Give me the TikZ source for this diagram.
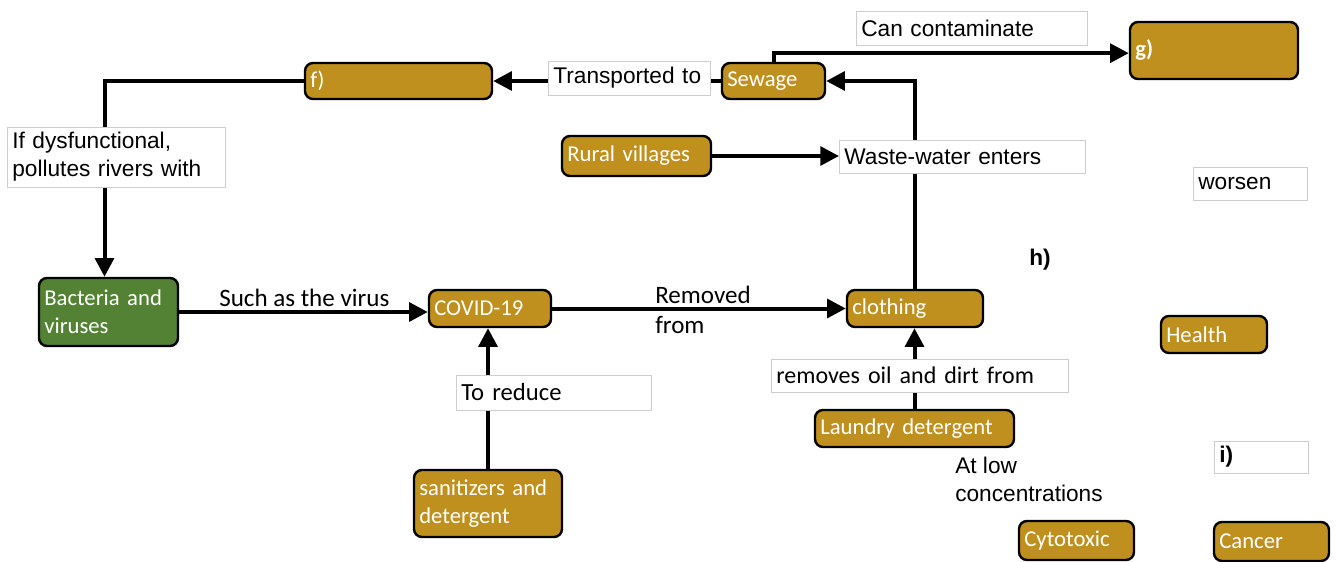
\documentclass[tikz,border=0pt]{standalone}
\usepackage{fontspec}
\setmainfont{Carlito}
\newfontfamily\arialf{Liberation Sans}
\usetikzlibrary{arrows.meta}
\definecolor{gold}{RGB}{191,144,30}
\definecolor{leaf}{RGB}{84,130,53}
\definecolor{lbord}{RGB}{205,205,205}
\begin{document}
\begin{tikzpicture}[x=0.75pt,y=-0.75pt,
  gbox/.style={draw=black, line width=1.8pt, rounded corners=6pt, fill=gold, text=white,
    font=\fontsize{17}{21}\selectfont, inner xsep=4pt, inner ysep=0pt, align=left},
  grn/.style={gbox, fill=leaf},
  lbox/.style={draw=lbord, line width=0.6pt, fill=white, text=black,
    font=\arialf\fontsize{17}{21}\selectfont, inner xsep=4pt, inner ysep=0pt, align=left},
  ptext/.style={text=black, font=\fontsize{18.8}{22}\selectfont, inner sep=0pt, align=left},
  atext/.style={text=black, font=\arialf\fontsize{17}{21}\selectfont, inner sep=0pt, align=left},
  arr/.style={draw=black, line width=3pt, -{Triangle[length=14pt,width=14pt]}},
  ln/.style={draw=black, line width=3pt}]
\useasboundingbox (0,0) rectangle (1341,561);
\fill[white] (0,0) rectangle (1341,561);
% gold / green nodes
\node[gbox, minimum width=140.25pt, minimum height=27pt, text width=132.25pt] (f) at (398.5,81) {f)};
\node[gbox, minimum width=77.25pt, minimum height=27pt, text width=69.25pt] (sew) at (773.5,81) {Sewage};
\node[gbox, minimum width=126pt, minimum height=42.75pt, text width=118pt] (g) at (1214,50.5) {\textbf{g)}};
\node[gbox, minimum width=111.75pt, minimum height=30pt, text width=103.75pt] (rural) at (636.5,156) {Rural villages};
\node[grn, minimum width=104.25pt, minimum height=51pt, text width=96.25pt] (bact) at (108.5,312) {Bacteria and\\viruses};
\node[gbox, minimum width=91.5pt, minimum height=27.75pt, text width=83.5pt] (cov) at (490,308.5) {COVID-19};
\node[gbox, minimum width=102pt, minimum height=27.75pt, text width=94pt] (cloth) at (915,308.5) {clothing};
\node[gbox, minimum width=79.5pt, minimum height=27.75pt, text width=71.5pt] (health) at (1214,334.5) {Health};
\node[gbox, minimum width=149.25pt, minimum height=27.75pt, text width=141.25pt] (laund) at (914.5,428.5) {Laundry detergent};
\node[gbox, minimum width=111pt, minimum height=50.25pt, text width=103pt] (san) at (488,503.5) {sanitizers and\\detergent};
\node[gbox, minimum width=86.25pt, minimum height=29.25pt, text width=78.25pt] (cyto) at (1076.5,540.5) {Cytotoxic};
\node[gbox, minimum width=86.25pt, minimum height=29.25pt, text width=78.25pt] (canc) at (1271.5,541.5) {Cancer};
% connectors
\draw[arr] (sew.west) -- (f.east);
\draw[arr] (sew.north) |- ([yshift=-2pt]g.west);
\draw[arr] (cloth.north) |- (sew.east);
\draw[arr] (rural.east) -- (rural.east -| 839,0) coordinate (wwl);
\draw[arr] (f.west) -| ([xshift=-3pt]bact.north);
\draw[arr] (bact.east) -- (bact.east -| cov.west);
\draw[arr] (cov.east) -- (cloth.west);
\draw[arr] (san.north) -- (san.north |- cov.south);
\draw[arr] (laund.north) -- (laund.north |- cloth.south);
% label boxes
\node[lbox, minimum width=121.5pt, minimum height=25.5pt, text width=113.5pt] (ltrans) at (629,78) {Transported to};
\node[lbox, minimum width=173.25pt, minimum height=25.5pt, text width=165.25pt] (lcont) at (971.5,28) {Can contaminate};
\node[lbox, minimum width=184.5pt, minimum height=24.75pt, text width=176.5pt] (lwaste) at (962,156.5) {Waste-water enters};
\node[lbox, minimum width=85.5pt, minimum height=24.75pt, text width=77.5pt] (lwors) at (1250,183.5) {worsen};
\node[lbox, minimum width=163.5pt, minimum height=45pt, text width=155.5pt] (ldys) at (116,157) {If dysfunctional,\\pollutes rivers with};
\node[lbox, font=\fontsize{18.5}{22}\selectfont, minimum width=146.25pt, minimum height=26.25pt, text width=138.25pt] (lred) at (553.5,392.5) {To reduce};
\node[lbox, font=\fontsize{18}{22}\selectfont, minimum width=222.75pt, minimum height=24.75pt, text width=214.75pt] (lrem) at (919.5,375.5) {removes oil and dirt from};
\node[lbox, minimum width=70.5pt, minimum height=24pt, text width=62.5pt] (li) at (1261,457) {\textbf{i)}};
% plain texts
\node[ptext, anchor=west] (tsuch) at (219,298) {Such as the virus};
\node[ptext, anchor=west] (trem) at (655,310) {Removed\\from};
\node[atext, anchor=center] (th) at (1040,260) {\textbf{h)}};
\node[atext, anchor=west] (tlow) at (955,479) {At low\\concentrations};
\end{tikzpicture}
\end{document}
